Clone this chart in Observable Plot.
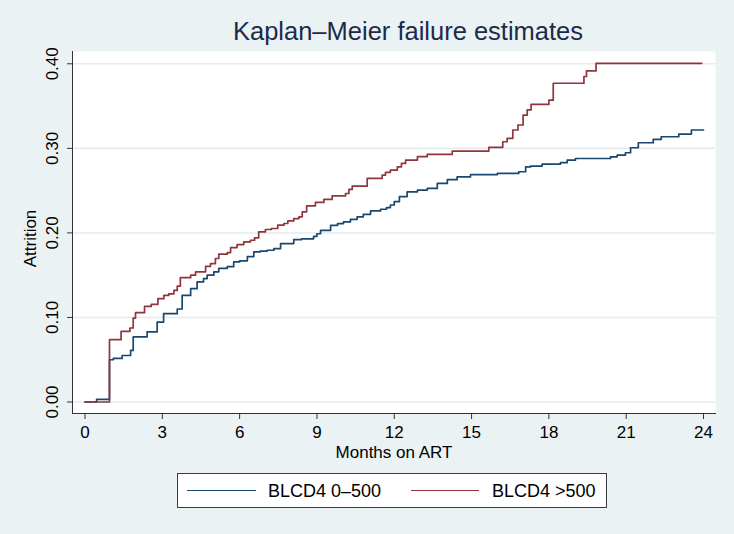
<!DOCTYPE html>
<html><head><meta charset="utf-8">
<script src="https://cdn.jsdelivr.net/npm/d3@7"></script>
<script src="https://cdn.jsdelivr.net/npm/@observablehq/plot@0.6"></script>
<style>
html,body{margin:0;padding:0;background:#eaf2f3;}
#wrap{position:relative;width:734px;height:534px;background:#eaf2f3;font-family:"Liberation Sans",Arial,Helvetica,sans-serif;overflow:hidden}
#title{position:absolute;left:0;top:16px;width:816px;text-align:center;font-size:25.5px;color:#1c2b49;line-height:30px;white-space:nowrap}
#chart{position:absolute;left:0;top:40px}
#legend{position:absolute;left:177px;top:473px;width:430px;height:35px;background:#fff;border:1px solid #3a3a3a;box-sizing:border-box}
.sw{position:absolute;top:16px;height:0;border-top:1.7px solid}
.lt{position:absolute;top:6px;font-size:18px;line-height:22px;color:#000;white-space:nowrap}
</style>
</head><body>
<div id="wrap">
  <div id="title"></div>
  <div id="chart"></div>
  <div id="legend"></div>
</div>
<script>
const titleText = "Kaplan\u2013Meier failure estimates";
const xLabel = "Months on ART";
const yLabel = "Attrition";
const seriesNames = ["BLCD4 0\u2013500", "BLCD4 >500"];
const seriesColors = ["#1a476f", "#90353b"];
const xTicks = [0, 3, 6, 9, 12, 15, 18, 21, 24];
const yTicks = [0, 0.1, 0.2, 0.3, 0.4];

const lowT = [0, 0.45, 0.95, 1.1, 1.44, 1.77, 1.87, 2.41, 2.8, 3.05, 3.58, 3.77, 4.1, 4.35, 4.6, 4.74, 5.0, 5.19, 5.52, 5.77, 6.0, 6.3, 6.55, 6.8, 7.07, 7.33, 7.59, 8.1, 8.4, 8.87, 9.0, 9.14, 9.53, 9.8, 10.03, 10.3, 10.56, 10.8, 11.08, 11.47, 11.7, 11.85, 12.0, 12.2, 12.5, 12.9, 13.28, 13.67, 14.06, 14.44, 14.96, 16.0, 16.83, 17.1, 17.29, 17.74, 18.45, 18.71, 19.03, 20.39, 20.65, 20.97, 21.17, 21.47, 22.05, 22.36, 23.04, 23.53, 24.0];
const lowV = [0, 0.003, 0.050, 0.0515, 0.055, 0.061, 0.077, 0.083, 0.0945, 0.1045, 0.110, 0.126, 0.134, 0.142, 0.146, 0.150, 0.154, 0.158, 0.160, 0.1657, 0.167, 0.172, 0.1775, 0.1785, 0.1795, 0.1815, 0.1874, 0.192, 0.193, 0.196, 0.199, 0.203, 0.209, 0.211, 0.213, 0.216, 0.219, 0.222, 0.226, 0.228, 0.230, 0.233, 0.237, 0.243, 0.2486, 0.2506, 0.2526, 0.2585, 0.263, 0.2663, 0.269, 0.2704, 0.2723, 0.278, 0.279, 0.2814, 0.283, 0.286, 0.288, 0.290, 0.292, 0.2948, 0.3007, 0.3066, 0.3106, 0.3137, 0.3169, 0.3217, 0.3217];

const highT = [0, 0.95, 1.4, 1.74, 1.87, 1.96, 2.31, 2.57, 2.83, 3.06, 3.25, 3.45, 3.58, 3.7, 4.1, 4.29, 4.68, 4.87, 5.06, 5.19, 5.52, 5.65, 5.9, 6.16, 6.42, 6.58, 6.74, 7.0, 7.23, 7.48, 7.72, 7.87, 8.1, 8.3, 8.43, 8.6, 8.94, 9.27, 9.59, 10.11, 10.24, 10.37, 10.95, 11.53, 11.66, 11.85, 12.12, 12.28, 12.44, 12.9, 13.28, 14.25, 15.67, 16.21, 16.38, 16.6, 16.8, 17.0, 17.16, 17.31, 18.0, 18.17, 19.36, 19.46, 19.83, 23.93];
const highV = [0, 0.0737, 0.0835, 0.0875, 0.0993, 0.1057, 0.113, 0.1155, 0.1222, 0.126, 0.128, 0.132, 0.137, 0.147, 0.150, 0.154, 0.1605, 0.1637, 0.1697, 0.1748, 0.1767, 0.1827, 0.1862, 0.1893, 0.1913, 0.194, 0.2012, 0.204, 0.2052, 0.2091, 0.2111, 0.2142, 0.217, 0.219, 0.2249, 0.232, 0.236, 0.2396, 0.2438, 0.2466, 0.2514, 0.2553, 0.2644, 0.2684, 0.2716, 0.2743, 0.2782, 0.2822, 0.2861, 0.2901, 0.2929, 0.2968, 0.3012, 0.3078, 0.3118, 0.3217, 0.3276, 0.3394, 0.3454, 0.352, 0.357, 0.377, 0.385, 0.3916, 0.4006, 0.4006];

const lowRows = lowT.map((t, i) => ({t, v: lowV[i]}));
const highRows = highT.map((t, i) => ({t, v: highV[i]}));

document.getElementById("title").textContent = titleText;

const font = '"Liberation Sans", Arial, Helvetica, sans-serif';
const axisColor = "#333";

const chart = Plot.plot({
  width: 734, height: 430,
  marginTop: 11, marginBottom: 57, marginLeft: 72, marginRight: 19,
  insetLeft: 12.5, insetRight: 12, insetTop: 12.3, insetBottom: 11.5,
  style: {background: "transparent", fontFamily: font, fontSize: "17px", color: "#000", overflow: "visible"},
  x: {domain: [0, 24]},
  y: {domain: [0, 0.4]},
  marks: [
    Plot.frame({fill: "white", stroke: null}),
    Plot.gridY(yTicks, {stroke: "#e3ebed", strokeOpacity: 1, strokeWidth: 1.5}),
    Plot.line(lowRows, {x: "t", y: "v", curve: "step-after", stroke: seriesColors[0], strokeWidth: 1.7}),
    Plot.line(highRows, {x: "t", y: "v", curve: "step-after", stroke: seriesColors[1], strokeWidth: 1.7}),
    Plot.frame({anchor: "left", stroke: axisColor, strokeOpacity: 1}),
    Plot.frame({anchor: "bottom", stroke: axisColor, strokeOpacity: 1}),
    Plot.axisX(xTicks, {tickSize: 6, tickPadding: 6, label: null, stroke: axisColor}),
    Plot.axisY(yTicks, {tickSize: 5, tickRotate: -90, tickPadding: 10, tickFormat: d3.format(".2f"), label: null, stroke: axisColor}),
    Plot.text([xLabel], {frameAnchor: "bottom", dy: 39, lineAnchor: "middle", textAnchor: "middle", fontSize: 17, fill: "#000"}),
    Plot.text([yLabel], {frameAnchor: "left", dx: -42, dy: 6, rotate: -90, lineAnchor: "middle", textAnchor: "middle", fontSize: 17, fill: "#000"})
  ]
});
document.getElementById("chart").appendChild(chart);

// legend
const legend = document.getElementById("legend");
const swX = [9, 233], txX = [90, 314], swW = [69, 68];
seriesNames.forEach((name, i) => {
  const sw = document.createElement("div");
  sw.className = "sw";
  sw.style.left = swX[i] + "px";
  sw.style.width = swW[i] + "px";
  sw.style.borderTopColor = seriesColors[i];
  legend.appendChild(sw);
  const tx = document.createElement("div");
  tx.className = "lt";
  tx.style.left = txX[i] + "px";
  tx.textContent = name;
  legend.appendChild(tx);
});
</script>
</body></html>
